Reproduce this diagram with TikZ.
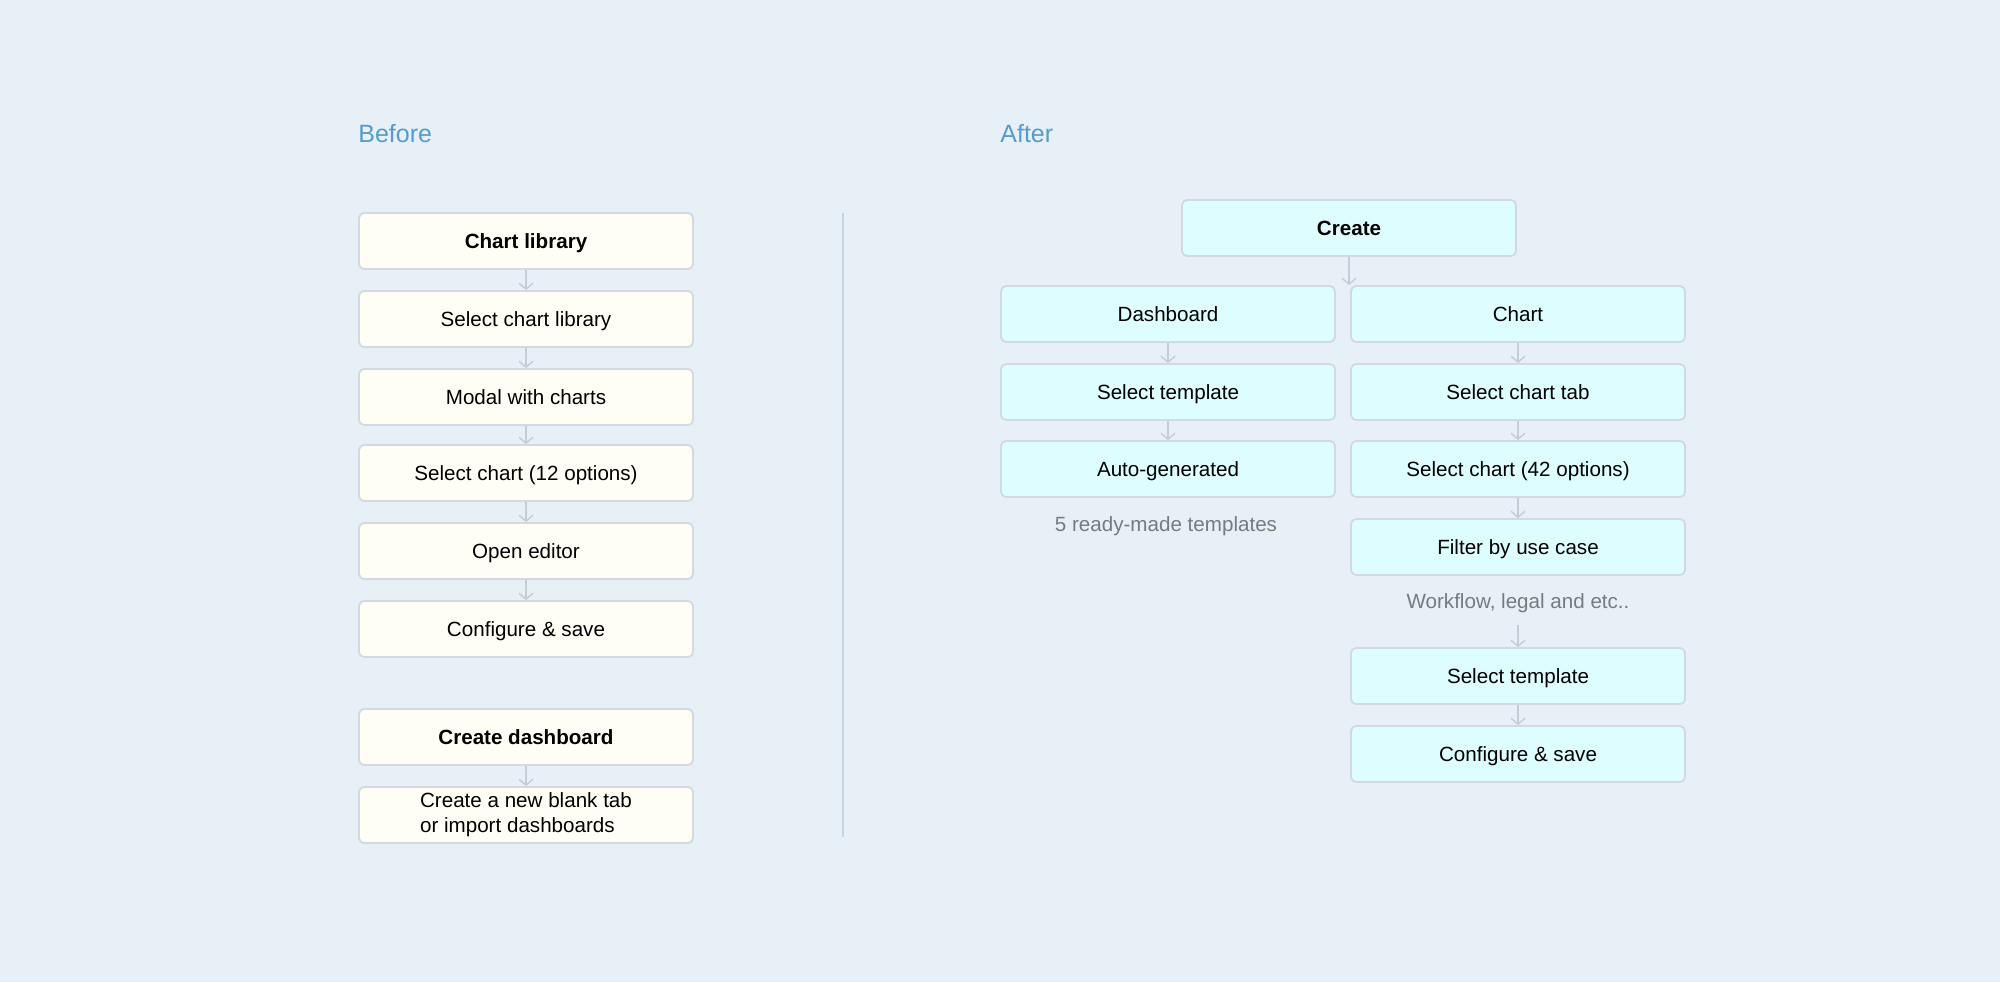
\documentclass[tikz,border=0pt]{standalone}
\usepackage{fontspec}
\setmainfont{Liberation Sans}
\usetikzlibrary{arrows.meta}
\definecolor{bg}{RGB}{231,239,247}
\definecolor{edge}{RGB}{210,217,224}
\definecolor{oldfill}{RGB}{255,254,244}
\definecolor{newfill}{RGB}{221,253,254}
\definecolor{headblue}{RGB}{84,156,206}
\definecolor{notegray}{RGB}{118,123,130}
\definecolor{arrowgray}{RGB}{196,205,214}
\definecolor{rule}{RGB}{196,214,230}

\begin{document}
\begin{tikzpicture}[
    x=0.5pt, y=-0.5pt,
    font=\fontsize{10.3}{12.5}\selectfont,
    frame/.style={draw=edge, line width=0.9pt, rounded corners=2.5pt, align=center,
                  minimum width=167pt, minimum height=28pt, inner sep=2pt},
    box/.style={frame, text height=7.4pt, text depth=0pt},
    old/.style={box, fill=oldfill},
    new/.style={box, fill=newfill},
    note/.style={text=notegray, text height=7.4pt, text depth=0pt},
    head/.style={text=headblue, anchor=west, inner sep=0pt,
                 font=\fontsize{12.5}{15}\selectfont},
    flow/.style={-{Straight Barb[length=3pt,width=7pt]}, line width=0.7pt, draw=arrowgray},
]
% canvas in pixels of the reference (y runs downward)
\fill[bg] (0,0) rectangle (2000,982);
\useasboundingbox (0,0) rectangle (2000,982);

% Before column
\node[head] (before) at (358,134) {Before};
\node[old] (lib)    at (526,241) {\textbf{Chart library}};
\node[old] (sellib) at (526,319) {Select chart library};
\node[old] (modal)  at (526,397) {Modal with charts};
\node[old] (sel12)  at (526,473) {Select chart (12 options)};
\node[old] (editor) at (526,551) {Open editor};
\node[old] (cfgold) at (526,629) {Configure \& save};
\node[old] (dash)   at (526,737) {\textbf{Create dashboard}};
\node[frame, fill=oldfill, align=left] (blank) at (526,815) {Create a new blank tab\\or import dashboards};

\draw[flow] (lib)    -- (sellib);
\draw[flow] (sellib) -- (modal);
\draw[flow] (modal)  -- (sel12);
\draw[flow] (sel12)  -- (editor);
\draw[flow] (editor) -- (cfgold);
\draw[flow] (dash)   -- (blank);

% divider
\draw[rule, line width=0.8pt] (843,213) -- (843,837);

% After column
\node[head] (after) at (1000,134) {After};
\node[new] (create) at (1349,228) {\textbf{Create}};
\node[new] (dboard) at (1168,314) {Dashboard};
\node[new] (chart)  at (1518,314) {Chart};
\node[new] (tpl)    at (1168,392) {Select template};
\node[new] (tab)    at (1518,392) {Select chart tab};
\node[new] (auto)   at (1168,469) {Auto-generated};
\node[new] (sel42)  at (1518,469) {Select chart (42 options)};
\node[note] (ready) at (1166,524) {5 ready-made templates};
\node[new] (filter) at (1518,547) {Filter by use case};
\node[note] (usecase) at (1518,601) {Workflow, legal and etc..};
\node[new] (tpl2)   at (1518,676) {Select template};
\node[new] (cfgnew) at (1518,754) {Configure \& save};

\coordinate (split) at (create.south |- dboard.north);
\draw[flow] (create) -- (split);
\draw[flow] (dboard) -- (tpl);
\draw[flow] (tpl)    -- (auto);
\draw[flow] (chart)  -- (tab);
\draw[flow] (tab)    -- (sel42);
\draw[flow] (sel42)  -- (filter);
\draw[flow, shorten <=5pt] (usecase) -- (tpl2);
\draw[flow] (tpl2)   -- (cfgnew);
\end{tikzpicture}
\end{document}
